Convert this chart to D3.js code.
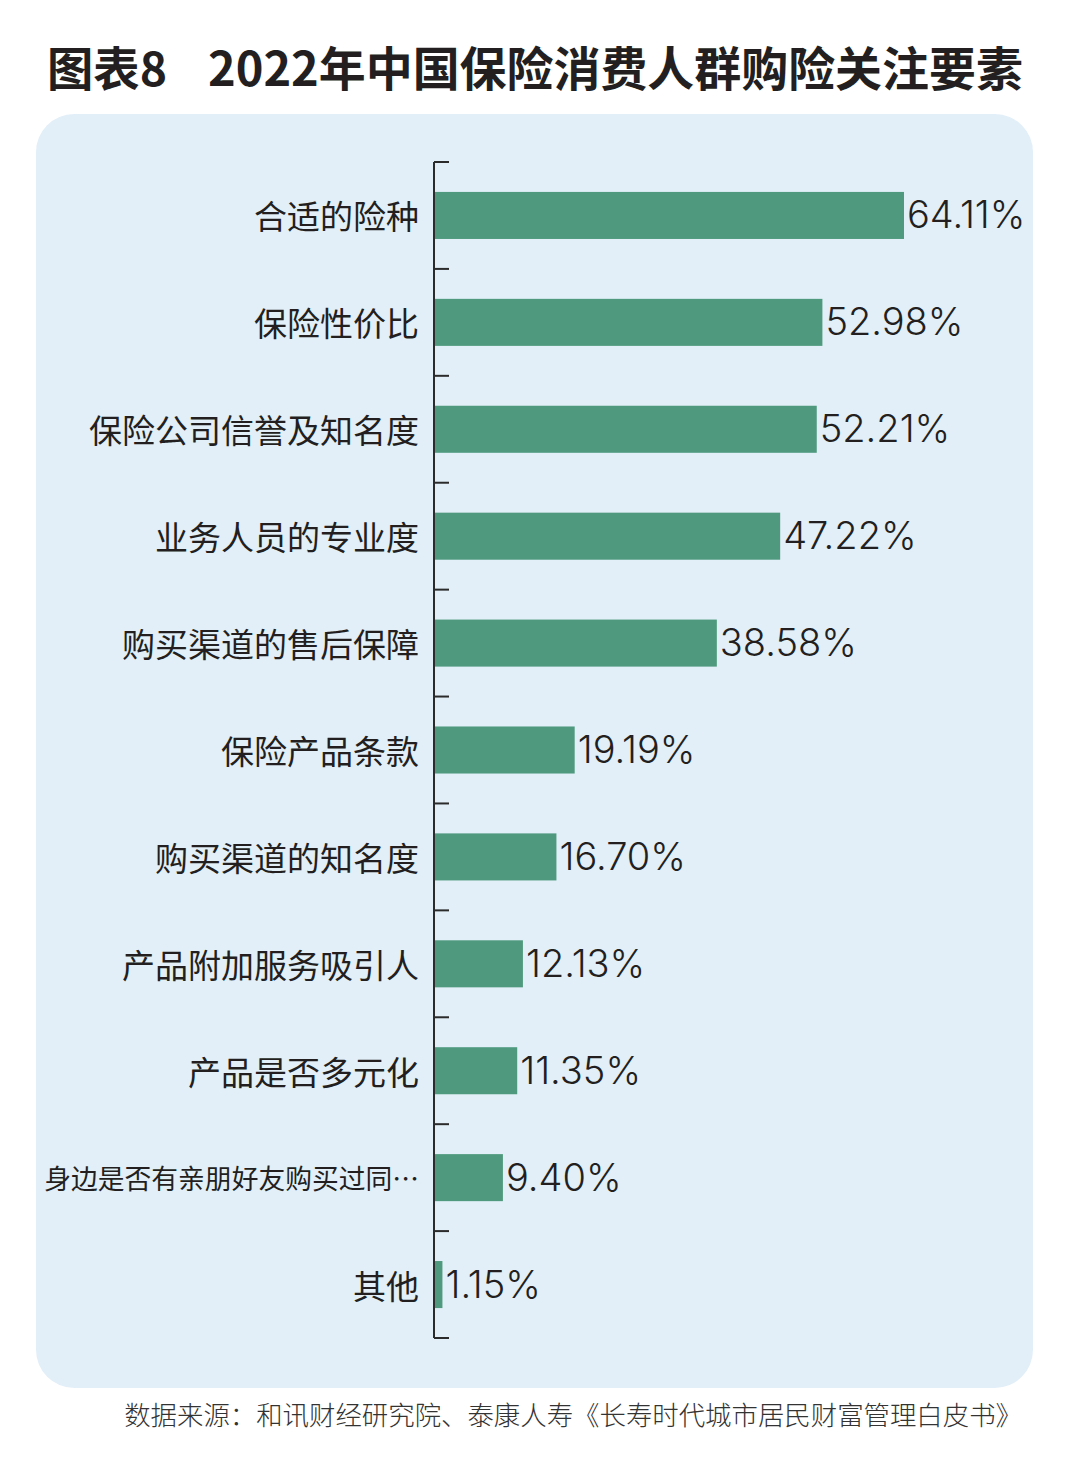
<!DOCTYPE html>
<html><head><meta charset="utf-8">
<script src="https://cdn.jsdelivr.net/npm/d3@7"></script>
<style>
html,body{margin:0;padding:0;background:#fff;}
svg{display:block;}
</style></head>
<body>
<script>
const titlePrefix = "图表8";
const titleMain = "2022年中国保险消费人群购险关注要素";
const sourceText = "数据来源：和讯财经研究院、泰康人寿《长寿时代城市居民财富管理白皮书》";
const categories = ["合适的险种","保险性价比","保险公司信誉及知名度","业务人员的专业度","购买渠道的售后保障","保险产品条款","购买渠道的知名度","产品附加服务吸引人","产品是否多元化","身边是否有亲朋好友购买过同…","其他"];
const values = [64.11,52.98,52.21,47.22,38.58,19.19,16.70,12.13,11.35,9.40,1.15];
const valueLabels = ["64.11%","52.98%","52.21%","47.22%","38.58%","19.19%","16.70%","12.13%","11.35%","9.40%","1.15%"];

const W = 1073, H = 1464;
const svg = d3.select("body").append("svg").attr("width", W).attr("height", H);

function fitText(sel, target, base) {
  const w = sel.node().getComputedTextLength();
  sel.attr("font-size", base * target / w);
}

// title
const tFont = "'Noto Sans CJK SC', sans-serif";
const t1 = svg.append("text").attr("x", 47).attr("y", 86)
  .attr("font-family", tFont).attr("font-weight", 700).attr("font-size", 46)
  .attr("fill", "#231f20").text(titlePrefix);
fitText(t1, 120, 46);
const t2 = svg.append("text").attr("x", 208).attr("y", 86)
  .attr("font-family", tFont).attr("font-weight", 700).attr("font-size", 46)
  .attr("fill", "#231f20").text(titleMain);
fitText(t2, 815, 46);

// panel
svg.append("rect").attr("x", 36).attr("y", 114).attr("width", 997).attr("height", 1274)
  .attr("rx", 38).attr("fill", "#e2eff8");

const x0 = 434;
const x = d3.scaleLinear().domain([0, 64.11]).range([x0, 904]);
const y = d3.scaleBand().domain(categories).range([162, 1338]).padding(0);
const barH = y.bandwidth() * 0.44;

const g = svg.append("g");

// bars
g.selectAll("rect.bar").data(values).join("rect").attr("class", "bar")
  .attr("x", x(0)).attr("width", d => x(d) - x(0))
  .attr("y", (d, i) => y(categories[i]) + (y.bandwidth() - barH) / 2)
  .attr("height", barH).attr("fill", "#4f9a7e");

// axis line + ticks at band edges
const edges = categories.map(c => y(c)).concat([y.range()[1]]);
g.append("line").attr("x1", x0).attr("x2", x0).attr("y1", y.range()[0]).attr("y2", y.range()[1])
  .attr("stroke", "#2b2b2b").attr("stroke-width", 2);
g.selectAll("line.tick").data(edges).join("line").attr("class", "tick")
  .attr("x1", x0).attr("x2", x0 + 15).attr("y1", d => d).attr("y2", d => d)
  .attr("stroke", "#2b2b2b").attr("stroke-width", 2);

// category labels
const maxW = 375;
g.selectAll("text.cat").data(categories).join("text").attr("class", "cat")
  .attr("x", 419).attr("y", d => y(d) + y.bandwidth() / 2)
  .attr("text-anchor", "end").attr("dominant-baseline", "central")
  .attr("font-family", tFont).attr("font-size", 33)
  .attr("fill", "#231f20").text(d => d)
  .each(function() {
    const w = this.getComputedTextLength();
    if (w > maxW) d3.select(this).attr("font-size", 33 * maxW / w);
  });

// value labels
g.selectAll("text.val").data(values).join("text").attr("class", "val")
  .attr("x", d => x(d) + 3).attr("y", (d, i) => y(categories[i]) + y.bandwidth() / 2 + 13)
  .attr("font-family", "Inter, 'Liberation Sans', sans-serif").attr("font-weight", 300)
  .attr("font-size", 38)
  .attr("fill", "#231f20").text((d, i) => valueLabels[i]);

// source
const src = svg.append("text").attr("x", 1022).attr("y", 1425).attr("text-anchor", "end")
  .attr("font-family", tFont).attr("font-weight", 300)
  .attr("font-size", 27).attr("fill", "#333").text(sourceText);
fitText(src, 898, 27);
</script>
</body></html>
